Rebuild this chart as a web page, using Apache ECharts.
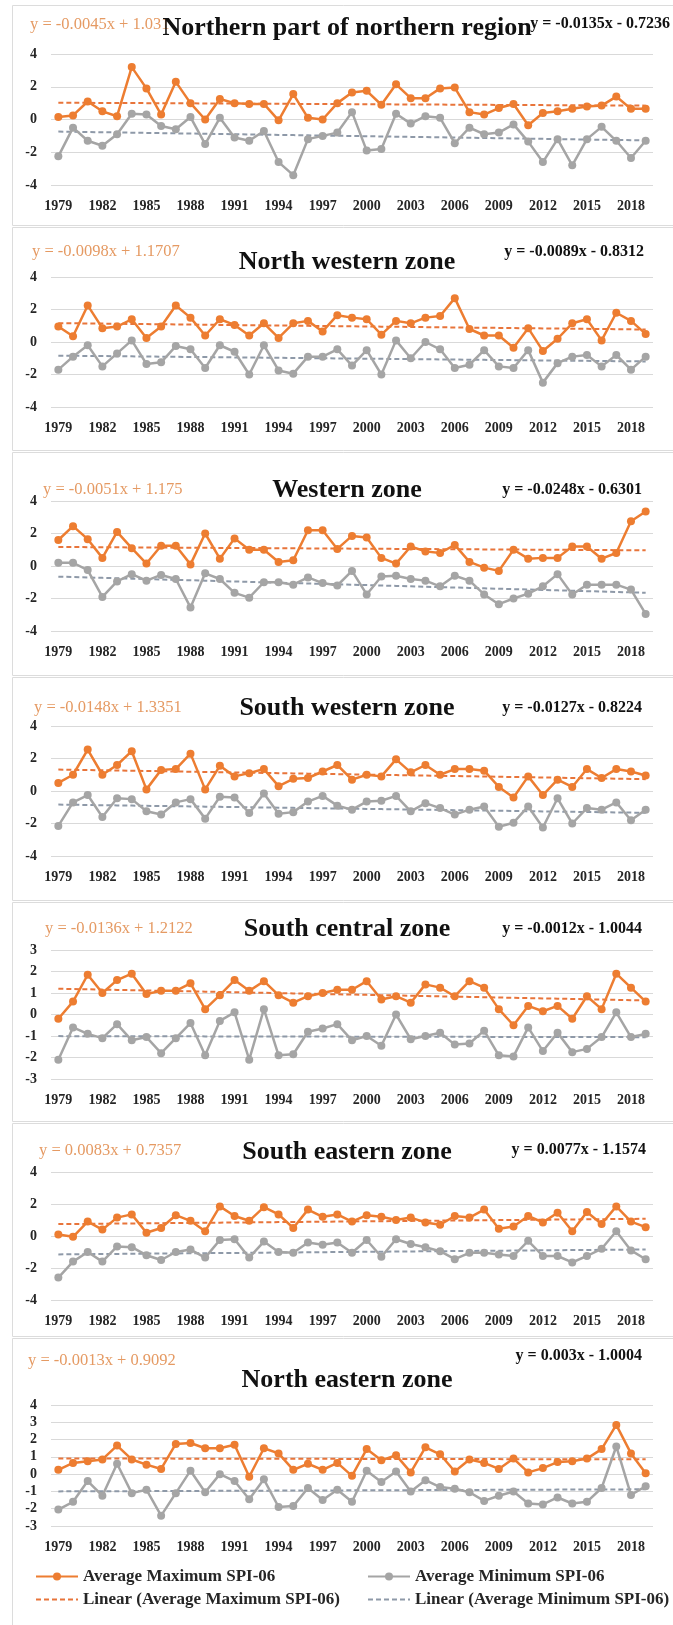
<!DOCTYPE html>
<html><head><meta charset="utf-8">
<script src="https://cdn.jsdelivr.net/npm/echarts@6/dist/echarts.min.js"></script>
<style>html,body{margin:0;padding:0;background:#fff}#c{width:673px;height:1625px}</style>
</head><body><div id="c"></div>
<script>
const years = ['1979','1980','1981','1982','1983','1984','1985','1986','1987','1988','1989','1990','1991','1992','1993','1994','1995','1996','1997','1998','1999','2000','2001','2002','2003','2004','2005','2006','2007','2008','2009','2010','2011','2012','2013','2014','2015','2016','2017','2018','2019'];
const titles = ['Northern part of northern region','North western zone','Western zone','South western zone','South central zone','South eastern zone','North eastern zone'];

const max1 = [0.15,0.25,1.1,0.5,0.2,3.2,1.9,0.3,2.3,1.0,0.0,1.25,1.0,0.95,0.95,-0.05,1.55,0.1,0.0,1.0,1.65,1.75,0.9,2.15,1.3,1.3,1.9,1.95,0.45,0.3,0.7,0.95,-0.35,0.4,0.5,0.65,0.8,0.85,1.4,0.65,0.65];
const min1 = [-2.25,-0.5,-1.3,-1.6,-0.9,0.35,0.3,-0.4,-0.6,0.15,-1.5,0.1,-1.1,-1.3,-0.7,-2.6,-3.4,-1.2,-1.0,-0.8,0.45,-1.9,-1.8,0.35,-0.25,0.2,0.1,-1.45,-0.5,-0.9,-0.8,-0.3,-1.35,-2.6,-1.2,-2.8,-1.2,-0.45,-1.3,-2.35,-1.3];
const max2 = [0.95,0.35,2.25,0.85,0.95,1.4,0.25,0.95,2.25,1.5,0.4,1.4,1.05,0.4,1.15,0.25,1.15,1.3,0.65,1.65,1.5,1.4,0.45,1.3,1.15,1.5,1.6,2.7,0.8,0.4,0.4,-0.35,0.85,-0.55,0.2,1.15,1.4,0.1,1.8,1.3,0.5];
const min2 = [-1.7,-0.9,-0.2,-1.5,-0.7,0.1,-1.35,-1.25,-0.25,-0.45,-1.6,-0.2,-0.6,-2.0,-0.2,-1.75,-1.95,-0.9,-0.9,-0.45,-1.45,-0.5,-2.0,0.1,-1.0,0.0,-0.45,-1.6,-1.4,-0.5,-1.5,-1.6,-0.5,-2.5,-1.3,-0.9,-0.8,-1.5,-0.8,-1.7,-0.9];
const max3 = [1.6,2.45,1.65,0.5,2.1,1.1,0.15,1.25,1.25,0.1,2.0,0.45,1.7,1.0,1.0,0.25,0.35,2.2,2.2,1.05,1.85,1.75,0.5,0.15,1.2,0.9,0.8,1.3,0.25,-0.1,-0.3,1.0,0.45,0.5,0.5,1.2,1.2,0.45,0.8,2.75,3.35];
const min3 = [0.2,0.2,-0.25,-1.9,-0.95,-0.5,-0.9,-0.55,-0.8,-2.55,-0.45,-0.8,-1.65,-1.95,-1.0,-1.0,-1.15,-0.7,-1.05,-1.2,-0.3,-1.75,-0.65,-0.6,-0.8,-0.9,-1.25,-0.6,-0.9,-1.75,-2.35,-2.0,-1.7,-1.25,-0.5,-1.75,-1.15,-1.15,-1.15,-1.45,-2.95];
const max4 = [0.5,1.0,2.55,1.0,1.6,2.45,0.1,1.3,1.35,2.3,0.1,1.55,0.9,1.1,1.35,0.3,0.75,0.8,1.2,1.6,0.7,1.0,0.9,1.95,1.15,1.6,1.0,1.35,1.35,1.25,0.25,-0.4,0.9,-0.25,0.7,0.25,1.35,0.8,1.35,1.2,0.95];
const min4 = [-2.15,-0.7,-0.25,-1.6,-0.45,-0.5,-1.25,-1.45,-0.7,-0.5,-1.7,-0.35,-0.4,-1.35,-0.15,-1.4,-1.3,-0.65,-0.3,-0.9,-1.15,-0.65,-0.6,-0.3,-1.25,-0.75,-1.05,-1.45,-1.15,-0.95,-2.2,-1.95,-0.95,-2.25,-0.45,-2.0,-1.05,-1.15,-0.7,-1.8,-1.15];
const max5 = [-0.2,0.6,1.85,1.0,1.6,1.9,0.95,1.1,1.1,1.45,0.25,0.9,1.6,1.1,1.55,0.9,0.55,0.85,1.0,1.15,1.15,1.55,0.7,0.85,0.55,1.4,1.25,0.85,1.55,1.25,0.25,-0.5,0.4,0.15,0.4,-0.2,0.85,0.25,1.9,1.25,0.6];
const min5 = [-2.1,-0.6,-0.9,-1.1,-0.45,-1.2,-1.05,-1.8,-1.1,-0.4,-1.9,-0.3,0.1,-2.1,0.25,-1.9,-1.85,-0.8,-0.65,-0.45,-1.2,-1.0,-1.45,0.0,-1.15,-1.0,-0.85,-1.4,-1.35,-0.75,-1.9,-1.95,-0.6,-1.7,-0.85,-1.75,-1.6,-1.05,0.1,-1.05,-0.9];
const max6 = [0.1,-0.05,0.9,0.4,1.15,1.35,0.2,0.5,1.3,0.95,0.3,1.85,1.25,0.95,1.8,1.35,0.5,1.65,1.2,1.35,0.9,1.3,1.2,1.0,1.15,0.85,0.7,1.25,1.15,1.65,0.45,0.6,1.25,0.85,1.45,0.3,1.5,0.75,1.85,0.9,0.55];
const min6 = [-2.6,-1.6,-1.0,-1.6,-0.65,-0.7,-1.2,-1.5,-1.0,-0.85,-1.35,-0.25,-0.2,-1.35,-0.35,-1.0,-1.05,-0.4,-0.55,-0.4,-1.05,-0.25,-1.3,-0.2,-0.5,-0.7,-0.95,-1.45,-1.05,-1.05,-1.15,-1.25,-0.3,-1.25,-1.25,-1.65,-1.25,-0.8,0.3,-0.9,-1.45];
const max7 = [0.25,0.65,0.75,0.85,1.65,0.85,0.55,0.3,1.75,1.8,1.5,1.5,1.7,-0.15,1.5,1.2,0.25,0.6,0.25,0.65,-0.1,1.45,0.8,1.1,0.1,1.55,1.15,0.15,0.85,0.65,0.3,0.9,0.1,0.35,0.7,0.75,0.9,1.45,2.85,1.2,0.05];
const min7 = [-2.05,-1.6,-0.4,-1.25,0.6,-1.1,-0.9,-2.4,-1.1,0.2,-1.05,0.0,-0.4,-1.45,-0.3,-1.9,-1.85,-0.8,-1.5,-0.9,-1.6,0.2,-0.45,0.15,-1.0,-0.35,-0.75,-0.85,-1.05,-1.55,-1.25,-1.0,-1.7,-1.75,-1.35,-1.7,-1.6,-0.8,1.6,-1.2,-0.7];

// printed trend-line equations (x = 1..41)
const maxSlope = [-0.0045,-0.0098,-0.0051,-0.0148,-0.0136,0.0083,-0.0013];
const maxIntercept = [1.031,1.1707,1.175,1.3351,1.2122,0.7357,0.9092];
const minSlope = [-0.0135,-0.0089,-0.0248,-0.0127,-0.0012,0.0077,0.003];
const minIntercept = [-0.7236,-0.8312,-0.6301,-0.8224,-1.0044,-1.1574,-1.0004];
const maxEqText = ['y = -0.0045x + 1.031','y = -0.0098x + 1.1707','y = -0.0051x + 1.175','y = -0.0148x + 1.3351','y = -0.0136x + 1.2122','y = 0.0083x + 0.7357','y = -0.0013x + 0.9092'];
const minEqText = ['y = -0.0135x - 0.7236','y = -0.0089x - 0.8312','y = -0.0248x - 0.6301','y = -0.0127x - 0.8224','y = -0.0012x - 1.0044','y = 0.0077x - 1.1574','y = 0.003x - 1.0004'];
const yMin = [-4,-4,-4,-4,-3,-4,-3];
const yMax = [4,4,4,4,3,4,4];
const yStep = [2,2,2,2,1,2,1];

const maxSeries = [max1,max2,max3,max4,max5,max6,max7];
const minSeries = [min1,min2,min3,min4,min5,min6,min7];

// layout
const gridTop = [54,277,501,726,950,1172,1405];
const gridBot = [185,407,631,856,1079,1300,1526];
const panelTop = [5,227,452,677,902,1123,1338];
const panelBot = [225,450,675,900,1121,1336,1660];
const leftEqX = [30,32,43,34,45,39,28];
const leftEqY = [25,252,490,708,929,1151,1361];
const titleY = [28,262,490,708,929,1152,1380];
const titleSize = [26,26,26,26,26,26,26];
const rightEqX = [670,644,642,642,642,646,642];
const rightEqY = [24,252,490,708,929,1150,1356];

const FONT = '"Liberation Serif","Times New Roman",serif';
const ORANGE = '#ED7D31', GRAY = '#A5A5A5';
const N1 = 'Average Maximum SPI-06', N2 = 'Average Minimum SPI-06';
const N3 = 'Linear (Average Maximum SPI-06)', N4 = 'Linear (Average Minimum SPI-06)';

const grid=[], xAxis=[], yAxis=[], series=[], graphic=[];
for (let i=0;i<7;i++){
  grid.push({left:51, right:20, top:gridTop[i], height:gridBot[i]-gridTop[i]});
  xAxis.push({type:'category', gridIndex:i, data:years, boundaryGap:true,
    axisLine:{show:false}, axisTick:{show:false}, splitLine:{show:false},
    axisLabel:{interval:2, margin:14, fontFamily:FONT, fontWeight:'bold', fontSize:14, color:'#262626'}});
  yAxis.push({type:'value', gridIndex:i, min:yMin[i], max:yMax[i], interval:yStep[i],
    axisLine:{show:false}, axisTick:{show:false},
    splitLine:{show:true, lineStyle:{color:'#d9d9d9', width:1}},
    axisLabel:{margin:14, fontFamily:FONT, fontWeight:'bold', fontSize:14, color:'#262626'}});
  const tMax = years.map((y,k)=> +(maxSlope[i]*(k+1)+maxIntercept[i]).toFixed(4));
  const tMin = years.map((y,k)=> +(minSlope[i]*(k+1)+minIntercept[i]).toFixed(4));
  series.push({type:'line', name:N4, xAxisIndex:i, yAxisIndex:i, data:tMin, symbol:'none', z:2,
    lineStyle:{color:'#8E99A8', width:2, type:[5,3]}, itemStyle:{color:'#8E99A8'}});
  series.push({type:'line', name:N3, xAxisIndex:i, yAxisIndex:i, data:tMax, symbol:'none', z:2,
    lineStyle:{color:'#E8743A', width:2, type:[5,3]}, itemStyle:{color:'#E8743A'}});
  series.push({type:'line', name:N2, xAxisIndex:i, yAxisIndex:i, data:minSeries[i], symbol:'circle', symbolSize:8, z:3,
    lineStyle:{color:GRAY, width:2.5}, itemStyle:{color:GRAY}});
  series.push({type:'line', name:N1, xAxisIndex:i, yAxisIndex:i, data:maxSeries[i], symbol:'circle', symbolSize:8, z:4,
    lineStyle:{color:ORANGE, width:2.5}, itemStyle:{color:ORANGE}});
  graphic.push({type:'rect', shape:{x:12.5, y:panelTop[i]+0.5, width:700, height:panelBot[i]-panelTop[i]}, silent:true,
    style:{fill:'none', stroke:'#dcdcdc', lineWidth:1}, z:-10});
  graphic.push({type:'text', x:leftEqX[i], y:leftEqY[i], silent:true,
    style:{text:maxEqText[i], font:'16.5px '+FONT, fill:'#E59A63', align:'left', verticalAlign:'middle'}});
  graphic.push({type:'text', x:347, y:titleY[i], silent:true,
    style:{text:titles[i], font:'bold '+titleSize[i]+'px '+FONT, fill:'#111', align:'center', verticalAlign:'middle'}});
  graphic.push({type:'text', x:rightEqX[i], y:rightEqY[i], silent:true,
    style:{text:minEqText[i], font:'bold 16px '+FONT, fill:'#111', align:'right', verticalAlign:'middle'}});
}

const legTxt = {fontFamily:FONT, fontWeight:'bold', fontSize:17, color:'#262626'};
const hideDot = {opacity:0};
const legend = [
  {data:[N1], left:35, top:1568, itemWidth:42, itemHeight:10, padding:0, textStyle:legTxt},
  {data:[N2], left:367, top:1568, itemWidth:42, itemHeight:10, padding:0, textStyle:legTxt},
  {data:[{name:N3, itemStyle:hideDot}], left:35, top:1591, itemWidth:42, itemHeight:10, padding:0, textStyle:legTxt},
  {data:[{name:N4, itemStyle:hideDot}], left:367, top:1591, itemWidth:42, itemHeight:10, padding:0, textStyle:legTxt}
];

const chart = echarts.init(document.getElementById('c'), null, {renderer:'canvas'});
chart.setOption({animation:false, backgroundColor:'#fff', grid, xAxis, yAxis, series, graphic, legend});
</script></body></html>
